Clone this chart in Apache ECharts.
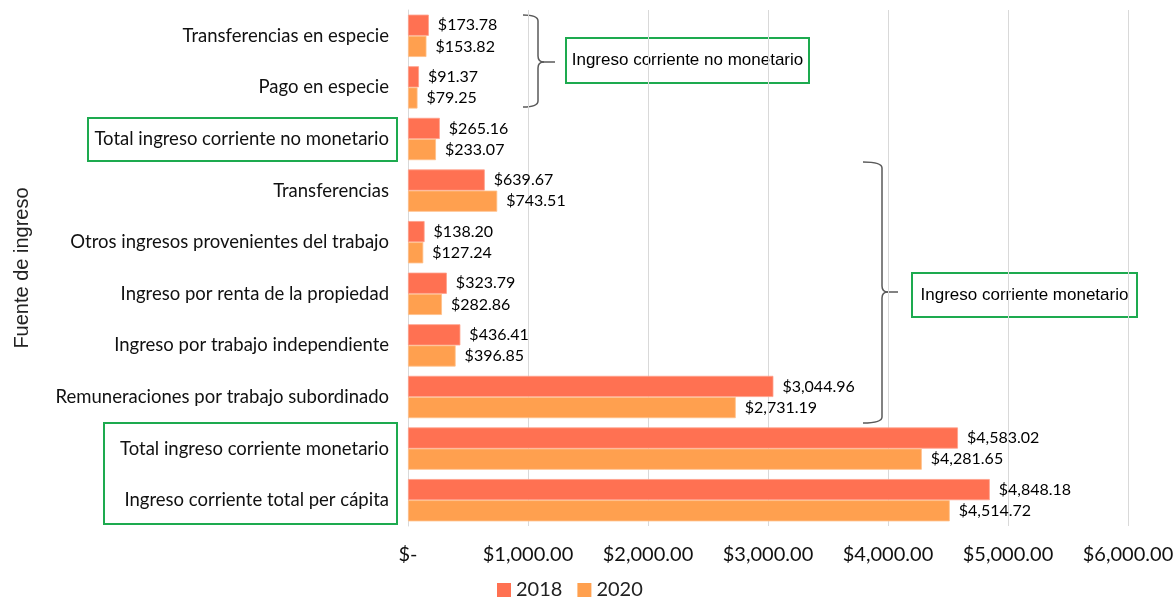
<!DOCTYPE html>
<html>
<head>
<meta charset="utf-8">
<script src="https://cdn.jsdelivr.net/npm/echarts@6/dist/echarts.min.js"></script>
<style>
  html, body { margin: 0; padding: 0; background: #fff; }
  #chart { width: 1174px; height: 600px; }
</style>
</head>
<body>
<div id="chart"></div>
<script>
const categories = [
  'Transferencias en especie',
  'Pago en especie',
  'Total ingreso corriente no monetario',
  'Transferencias',
  'Otros ingresos provenientes del trabajo',
  'Ingreso por renta de la propiedad',
  'Ingreso por trabajo independiente',
  'Remuneraciones por trabajo subordinado',
  'Total ingreso corriente monetario',
  'Ingreso corriente total per cápita'
];
const values2018 = [173.78, 91.37, 265.16, 639.67, 138.20, 323.79, 436.41, 3044.96, 4583.02, 4848.18];
const values2020 = [153.82, 79.25, 233.07, 743.51, 127.24, 282.86, 396.85, 2731.19, 4281.65, 4514.72];
const seriesNames = ['2018', '2020'];
const axisName = 'Fuente de ingreso';
const groupNoMonetario = 'Ingreso corriente no monetario';
const groupMonetario = 'Ingreso corriente monetario';

const font = 'Lato, "Open Sans", sans-serif';
const arial = '"Liberation Sans", Arial, sans-serif';
const money = v => '$' + v.toLocaleString('en-US', { minimumFractionDigits: 2, maximumFractionDigits: 2 });

const chart = echarts.init(document.getElementById('chart'));

const barLabel = {
  show: true,
  position: 'right',
  distance: 9,
  color: '#000',
  fontFamily: font,
  fontSize: 16,
  formatter: p => money(p.value)
};

// curly brace pointing right, built from lines and curves
const braceStyle = { stroke: '#595959', lineWidth: 1.5, fill: 'none' };
const brace = (x0, xs, xt, y1, y2, ym) => {
  const r = 6;
  const curve = (x1, y1_, cx, cy, x2, y2_) => ({
    type: 'bezierCurve',
    shape: { x1: x1, y1: y1_, x2: x2, y2: y2_, cpx1: cx, cpy1: cy },
    style: braceStyle
  });
  const line = (x1, y1_, x2, y2_) => ({
    type: 'line',
    shape: { x1: x1, y1: y1_, x2: x2, y2: y2_ },
    style: braceStyle
  });
  return [
    curve(x0, y1, xs, y1, xs, y1 + r),
    line(xs, y1 + r, xs, ym - r),
    curve(xs, ym - r, xs, ym, xs + r, ym),
    line(xs + r, ym, xt, ym),
    curve(xs + r, ym, xs, ym, xs, ym + r),
    line(xs, ym + r, xs, y2 - r),
    curve(xs, y2 - r, xs, y2, x0, y2)
  ];
};

const green = '#1DAA4F';

const option = {
  animation: false,
  textStyle: { fontFamily: font },
  grid: { left: 408, right: 46, top: 10, bottom: 74, outerBoundsMode: 'none', containLabel: false },
  legend: {
    data: seriesNames,
    bottom: 0,
    padding: 0,
    left: 497,
    itemWidth: 14,
    itemHeight: 14,
    itemGap: 15,
    icon: 'rect',
    itemStyle: { borderWidth: 0 },
    textStyle: { fontFamily: font, fontSize: 20, color: '#222' }
  },
  xAxis: {
    type: 'value',
    min: 0,
    max: 6000,
    interval: 1000,
    axisLine: { show: false },
    axisTick: { show: false },
    splitLine: { lineStyle: { color: '#D9D9D9', width: 1 } },
    axisLabel: {
      margin: 19,
      color: '#111',
      fontFamily: font,
      fontSize: 20,
      formatter: v => v === 0 ? '$-' : money(v)
    }
  },
  yAxis: {
    type: 'category',
    data: categories,
    inverse: true,
    name: axisName,
    nameLocation: 'middle',
    nameGap: 376,
    nameRotate: 90,
    nameTextStyle: { fontFamily: arial, fontSize: 20, color: '#222' },
    axisLine: { show: true, lineStyle: { color: '#D9D9D9' } },
    axisTick: { show: false },
    axisLabel: {
      margin: 19,
      color: '#111',
      fontFamily: font,
      fontSize: 18.5
    }
  },
  series: [
    {
      name: seriesNames[0],
      type: 'bar',
      data: values2018,
      barGap: '0%',
      barCategoryGap: '18%',
      itemStyle: { color: '#FF7152', borderColor: '#FFA08A', borderWidth: 0.8 },
      label: barLabel
    },
    {
      name: seriesNames[1],
      type: 'bar',
      data: values2020,
      itemStyle: { color: '#FFA04F', borderColor: '#FFC08A', borderWidth: 0.8 },
      label: barLabel
    }
  ],
  graphic: [].concat(
    brace(523, 538, 555, 15, 107, 62),
    brace(863, 882, 898, 162, 423, 292),
    [
      {
        type: 'rect',
        shape: { x: 566, y: 38, width: 243, height: 45 },
        style: { fill: '#fff', stroke: green, lineWidth: 2 }
      },
      {
        type: 'text',
        x: 687.5, y: 60.5,
        style: {
          text: groupNoMonetario, font: '17px ' + arial,
          fill: '#000', align: 'center', verticalAlign: 'middle'
        }
      },
      {
        type: 'rect',
        shape: { x: 912, y: 273, width: 225, height: 44 },
        style: { fill: '#fff', stroke: green, lineWidth: 2 }
      },
      {
        type: 'text',
        x: 1024.5, y: 295,
        style: {
          text: groupMonetario, font: '17px ' + arial,
          fill: '#000', align: 'center', verticalAlign: 'middle'
        }
      },
      {
        type: 'rect',
        shape: { x: 88, y: 118, width: 309, height: 43 },
        style: { fill: 'none', stroke: green, lineWidth: 2 }
      },
      {
        type: 'rect',
        shape: { x: 104, y: 423, width: 293, height: 101 },
        style: { fill: 'none', stroke: green, lineWidth: 2 }
      }
    ]
  )
};

chart.setOption(option);
</script>
</body>
</html>
